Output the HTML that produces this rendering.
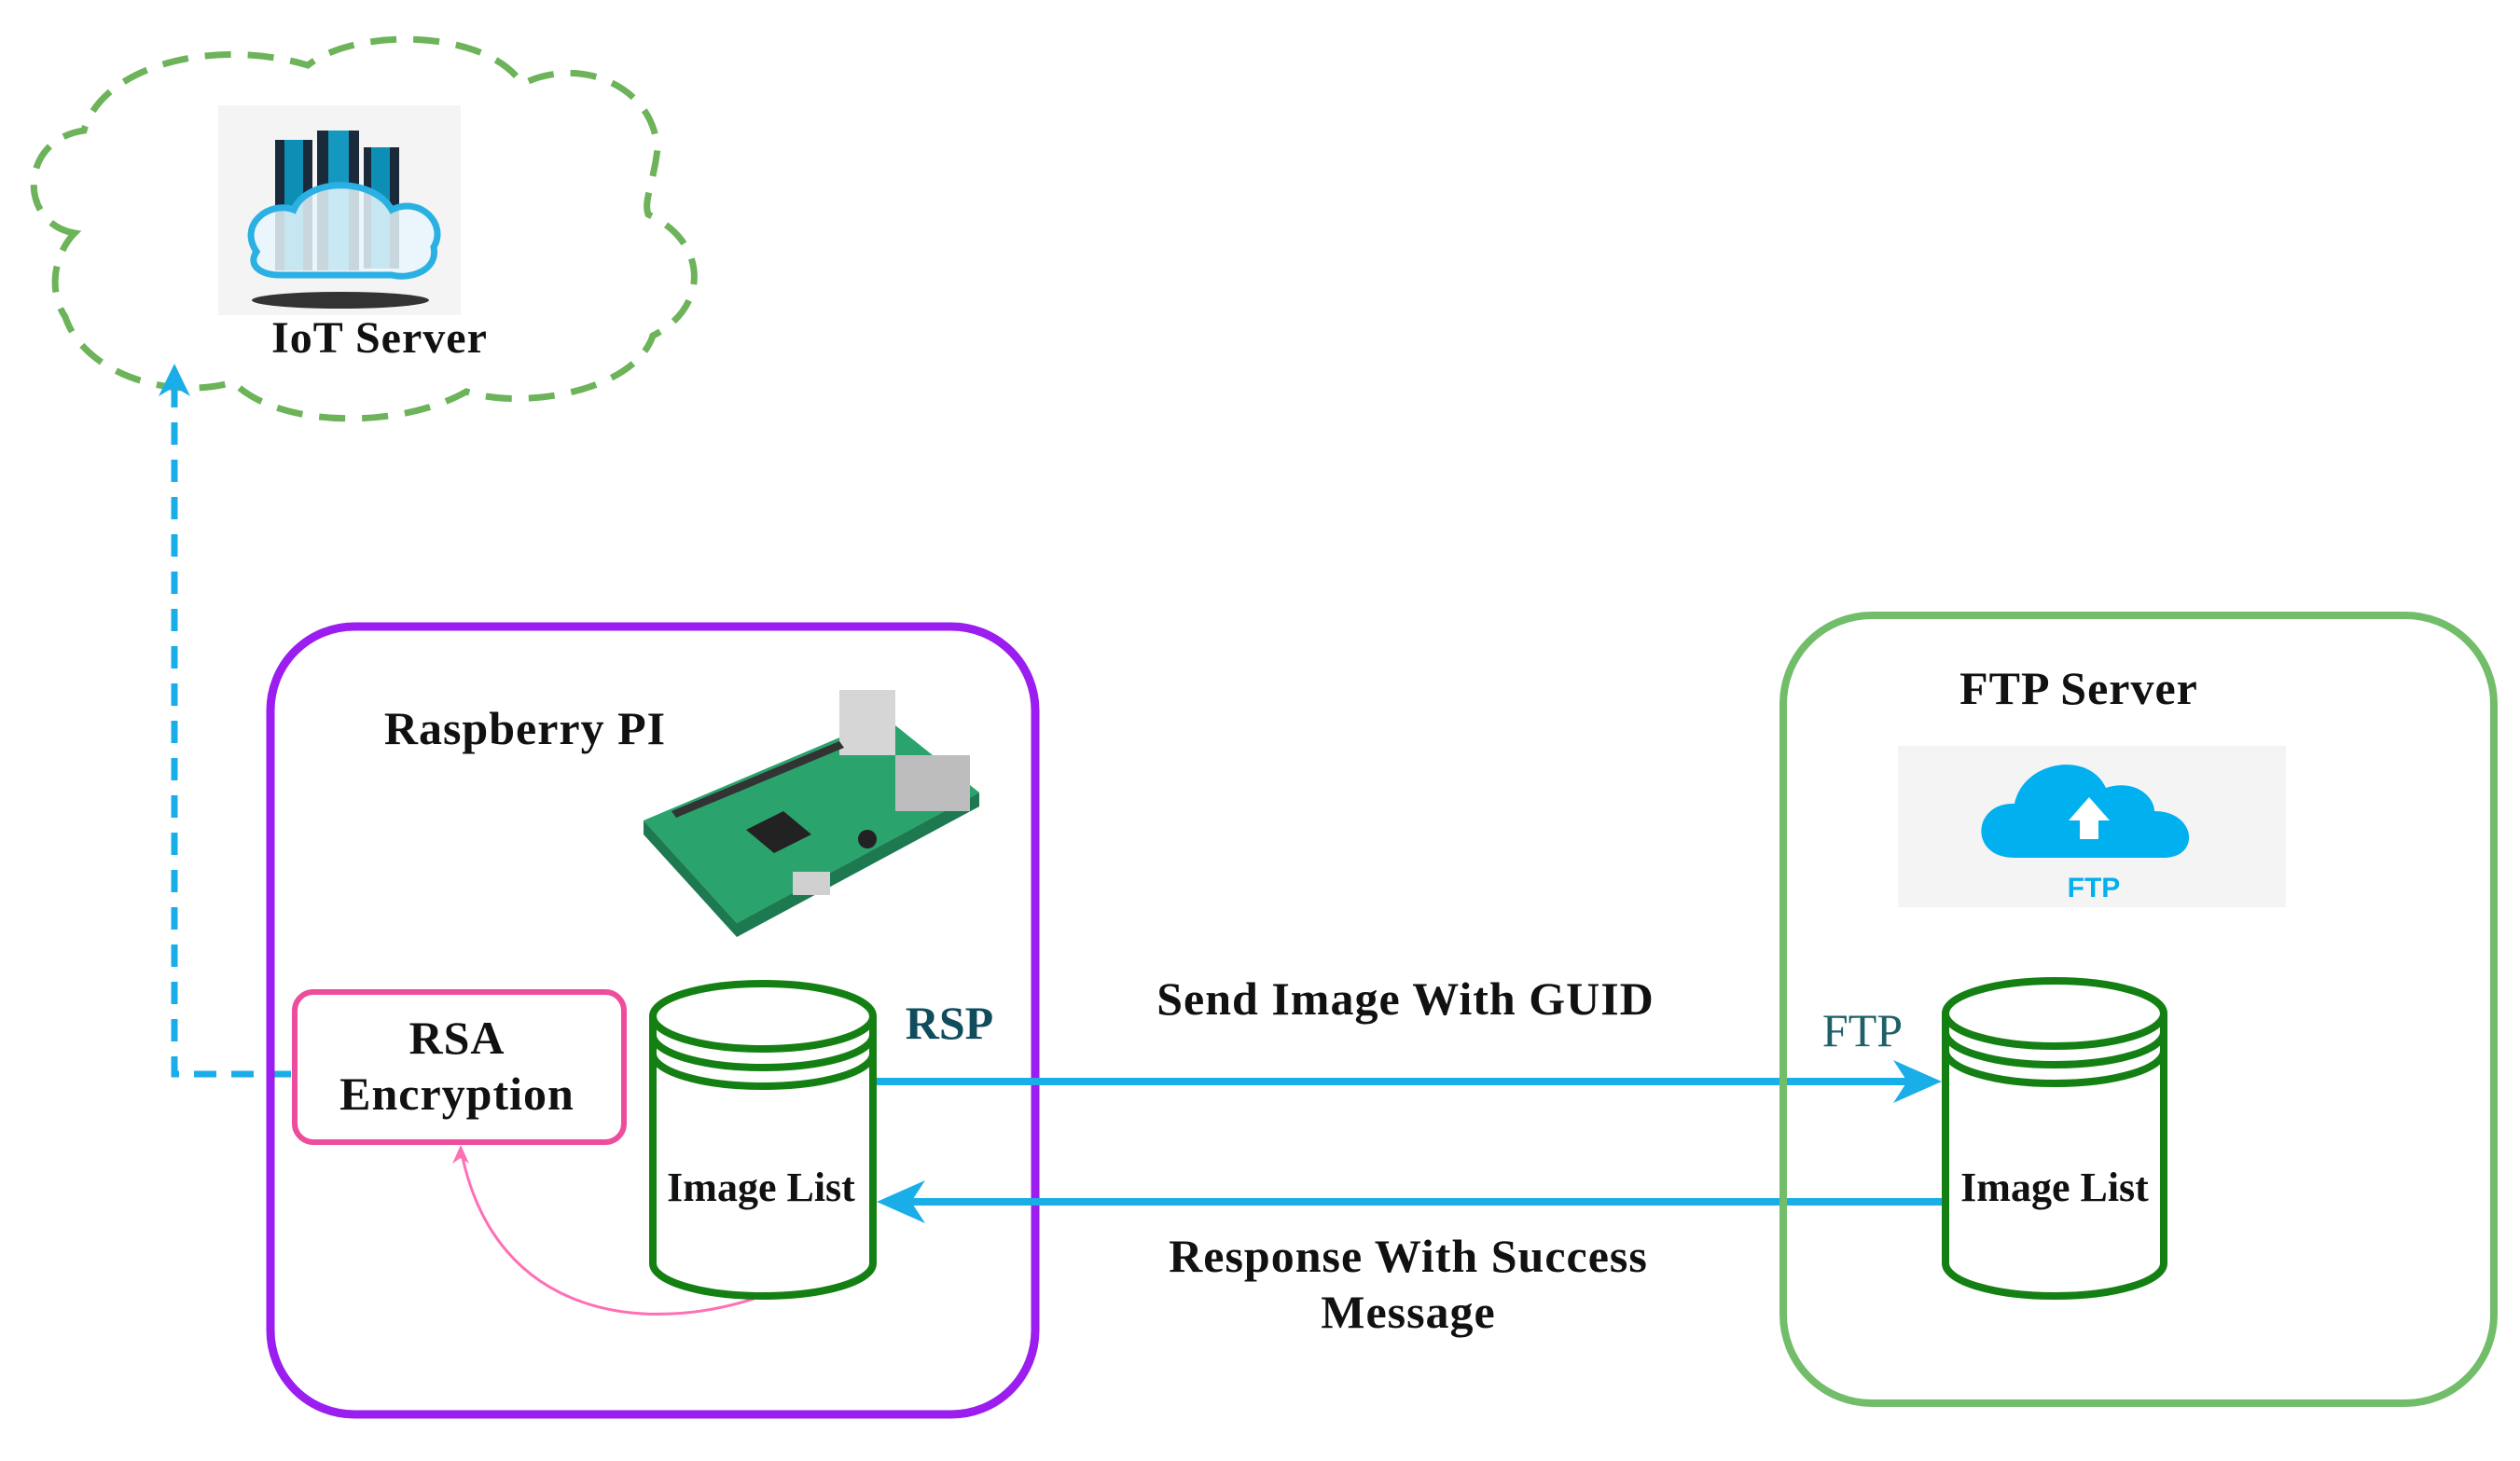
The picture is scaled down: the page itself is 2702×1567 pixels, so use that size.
<!DOCTYPE html>
<html><head><meta charset="utf-8"><style>
html,body{margin:0;padding:0;background:#fff;}
svg{display:block;}
text{font-family:"Liberation Serif",serif;font-weight:bold;fill:#111;}
</style></head><body>
<svg width="2702" height="1567" viewBox="0 0 2702 1567" xmlns="http://www.w3.org/2000/svg">
<!-- cloud -->
<path d="M80,250 C20,240 20,150 90,140 C110,70 230,40 330,70 C380,30 520,30 560,90 C620,60 700,90 705,160 C700,200 690,215 695,230 C760,260 760,330 700,360 C680,420 560,440 500,420 C430,460 300,460 250,410 C180,430 90,400 70,340 C50,310 60,270 80,250 Z" fill="none" stroke="#6db35a" stroke-width="7" stroke-dasharray="28,18"/>
<!-- server icon -->
<rect x="234" y="113" width="260" height="225" fill="#f4f4f4"/>
<ellipse cx="365" cy="322" rx="95" ry="9" fill="#333"/>
<rect x="295" y="150" width="40" height="140" fill="#1a2a3a"/>
<rect x="305" y="150" width="20" height="140" fill="#0d8fb5"/>
<rect x="340" y="140" width="45" height="150" fill="#1a2a3a"/>
<rect x="352" y="140" width="22" height="150" fill="#1598c0"/>
<rect x="390" y="158" width="38" height="130" fill="#1a2a3a"/>
<rect x="398" y="158" width="20" height="130" fill="#0d8fb5"/>
<path d="M275,270 C255,240 290,215 315,225 C330,190 400,190 420,225 C450,210 480,240 465,265 C470,290 440,300 420,295 L300,295 C280,295 265,285 275,270 Z" fill="#e8f6fc" fill-opacity="0.85" stroke="#2bb0e4" stroke-width="7"/>
<text x="407" y="378" font-size="48" text-anchor="middle" letter-spacing="1">IoT Server</text>
<!-- dashed blue -->
<path d="M312,1152 L187,1152 L187,405" fill="none" stroke="#1aaee8" stroke-width="7" stroke-dasharray="24,16"/>
<path d="M187,390 L170,425 L187,415 L204,425 Z" fill="#1aaee8"/>
<!-- purple box -->
<rect x="290" y="672" width="820" height="845" rx="90" fill="none" stroke="#9b1df0" stroke-width="9"/>
<text x="563" y="798" font-size="50" text-anchor="middle" letter-spacing="1">Raspberry PI</text>
<!-- pi board -->
<g>
<polygon points="690,880 950,770 1050,850 790,990" fill="#2aa36c"/>
<polygon points="690,880 790,990 790,1005 690,895" fill="#1d7a50"/>
<polygon points="790,990 1050,850 1050,865 790,1005" fill="#1d7a50"/>
<rect x="960" y="810" width="80" height="60" fill="#bdbdbd"/>
<rect x="900" y="740" width="60" height="70" fill="#d6d6d6"/>
<polygon points="800,890 840,870 870,895 830,915" fill="#222"/>
<polygon points="720,870 900,795 905,802 725,877" fill="#333"/>
<rect x="850" y="935" width="40" height="25" fill="#d0d0d0"/>
<circle cx="930" cy="900" r="10" fill="#222"/>
</g>
<!-- RSA box -->
<rect x="316" y="1064" width="353" height="161" rx="20" fill="none" stroke="#ee4d9c" stroke-width="6"/>
<text x="490" y="1130" font-size="50" text-anchor="middle" letter-spacing="1">RSA</text>
<text x="490" y="1190" font-size="50" text-anchor="middle" letter-spacing="1">Encryption</text>
<!-- pink curve -->
<path d="M814,1391 C700,1430 530,1420 494,1232" fill="none" stroke="#ff6fb5" stroke-width="3"/>
<path d="M494,1228 L485,1248 L494,1242 L503,1248 Z" fill="#ff6fb5"/>
<!-- left cylinder -->
<g fill="none" stroke="#148014" stroke-width="8">
<path d="M700,1090 L700,1355 A118,35 0 0 0 936,1355 L936,1090"/>
<ellipse cx="818" cy="1090" rx="118" ry="35"/>
<path d="M700,1110 A118,35 0 0 0 936,1110"/>
<path d="M700,1130 A118,35 0 0 0 936,1130"/>
</g>
<text x="816" y="1288" font-size="44" text-anchor="middle">Image List</text>
<text x="1018" y="1114" font-size="50" text-anchor="middle" style="fill:#0f4c5c">RSP</text>
<!-- arrows -->
<line x1="940" y1="1160" x2="2060" y2="1160" stroke="#1aaee8" stroke-width="8"/>
<path d="M2082,1160 L2030,1137 L2045,1160 L2030,1183 Z" fill="#1aaee8"/>
<line x1="2087" y1="1289" x2="960" y2="1289" stroke="#1aaee8" stroke-width="8"/>
<path d="M940,1289 L992,1266 L977,1289 L992,1312 Z" fill="#1aaee8"/>
<text x="1507" y="1088" font-size="50" text-anchor="middle" letter-spacing="1">Send Image With GUID</text>
<text x="1510" y="1364" font-size="50" text-anchor="middle" letter-spacing="1">Response With Success</text>
<text x="1510" y="1424" font-size="50" text-anchor="middle" letter-spacing="1">Message</text>
<!-- FTP box -->
<rect x="1912" y="660" width="762" height="845" rx="95" fill="none" stroke="#72bd6a" stroke-width="8"/>
<text x="2229" y="755" font-size="50" text-anchor="middle" letter-spacing="1">FTP Server</text>
<rect x="2035" y="800" width="416" height="173" fill="#f4f4f4"/>
<path d="M2160,920 C2110,920 2115,860 2160,862 C2170,815 2240,805 2258,845 C2290,835 2310,855 2310,870 C2355,870 2360,920 2320,920 Z" fill="#00b0ef"/>
<path d="M2230,900 L2230,880 L2218,880 L2240,855 L2262,880 L2250,880 L2250,900 Z" fill="#fff"/>
<text x="2245" y="962" font-size="30" text-anchor="middle" style="fill:#00b0ef;font-family:'Liberation Sans',sans-serif">FTP</text>
<!-- right cylinder -->
<g fill="none" stroke="#148014" stroke-width="8">
<path d="M2086,1087 L2086,1355 A117,35 0 0 0 2320,1355 L2320,1087"/>
<ellipse cx="2203" cy="1087" rx="117" ry="35"/>
<path d="M2086,1107 A117,35 0 0 0 2320,1107"/>
<path d="M2086,1127 A117,35 0 0 0 2320,1127"/>
</g>
<text x="2203" y="1288" font-size="44" text-anchor="middle">Image List</text>
<text x="1997" y="1122" font-size="50" text-anchor="middle" style="fill:#1f5f66;font-weight:normal">FTP</text>
</svg>
</body></html>
